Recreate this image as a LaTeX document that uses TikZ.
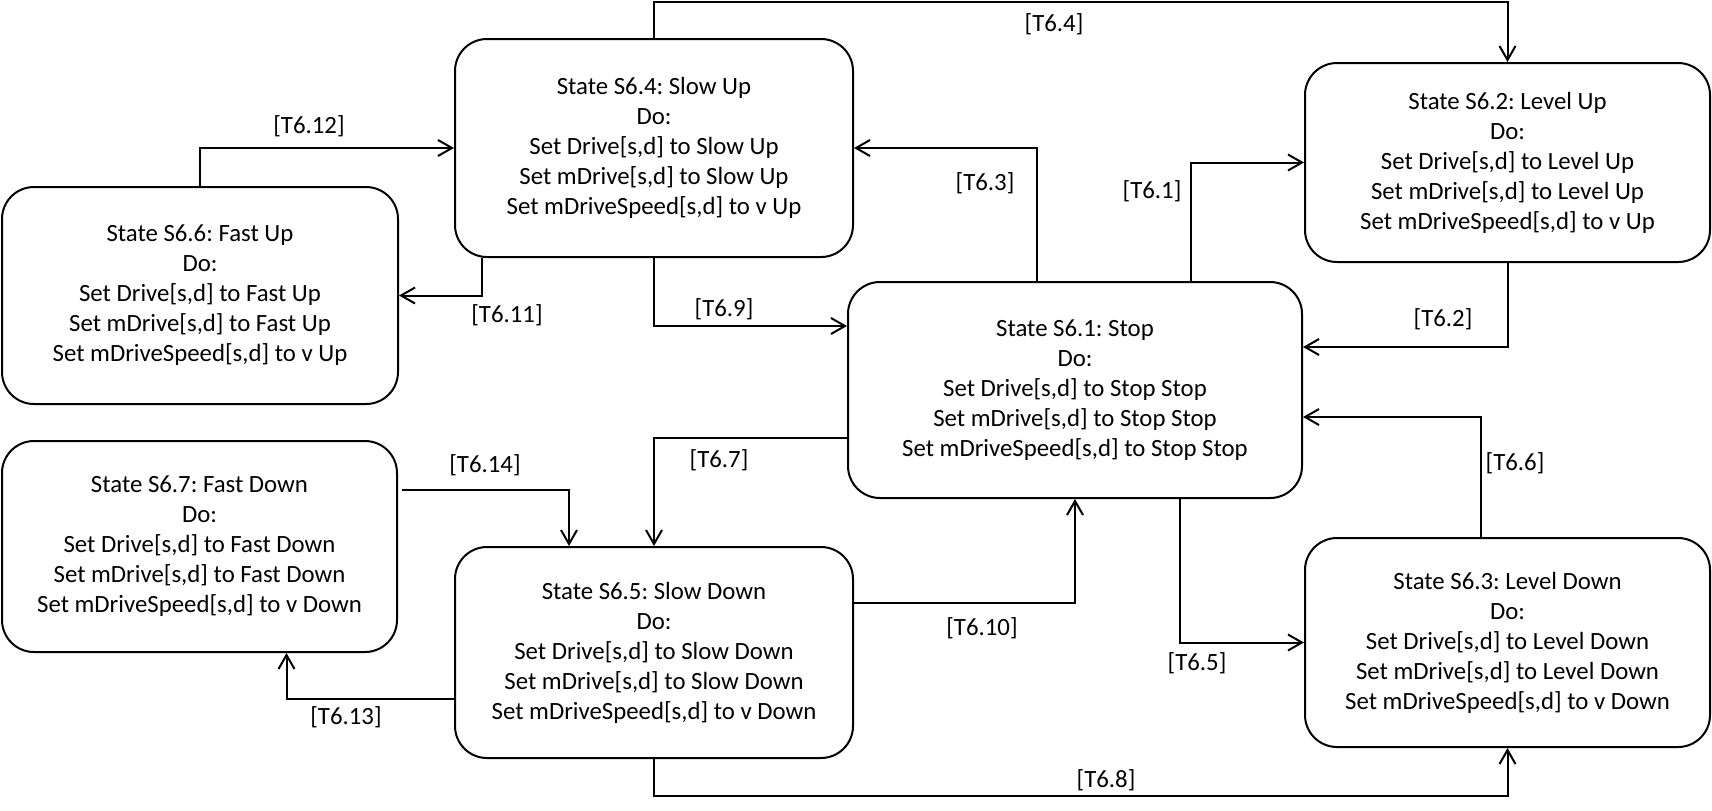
\documentclass[tikz,border=0pt]{standalone}
\usepackage{fontspec}
\setmainfont{Carlito}
\usetikzlibrary{calc,arrows.meta}
\frenchspacing

\begin{document}
\begin{tikzpicture}[x=0.5pt,y=-0.5pt,line width=1pt,
 every node/.style={font=\fontsize{12.4}{15}\selectfont},
 state/.style={draw,rounded corners=16pt,align=center,inner sep=0pt},
 arr/.style={-{Straight Barb[length=7pt,width=8pt]}}]

\newcommand{\dobox}[4] % [state][name][drive][speed]
{State #1: #2\\Do:\\Set Drive[s,d] to #3\\Set mDrive[s,d] to #3\\Set mDriveSpeed[s,d] to #4}

\useasboundingbox (0,0) rectangle (1712,810);

% states
\node[state,minimum width=227pt,minimum height=108pt] (s61) at (1075,390)
 {\dobox{S6.1}{Stop}{Stop Stop}{Stop Stop}};
\node[state,minimum width=202.5pt,minimum height=99.5pt] (s62) at (1507.5,162.5)
 {\dobox{S6.2}{Level Up}{Level Up}{v Up}};
\node[state,minimum width=202.5pt,minimum height=104.5pt] (s63) at (1507.5,642.5)
 {\dobox{S6.3}{Level Down}{Level Down}{v Down}};
\node[state,minimum width=199pt,minimum height=109pt] (s64) at (654,148)
 {\dobox{S6.4}{Slow Up}{Slow Up}{v Up}};
\node[state,minimum width=199pt,minimum height=105.5pt] (s65) at (654,652.5)
 {\dobox{S6.5}{Slow Down}{Slow Down}{v Down}};
\node[state,minimum width=198pt,minimum height=108.5pt] (s66) at (200,295.5)
 {\dobox{S6.6}{Fast Up}{Fast Up}{v Up}};
\node[state,minimum width=197.5pt,minimum height=105.5pt] (s67) at (199.5,546.5)
 {\dobox{S6.7}{Fast Down}{Fast Down}{v Down}};

% transitions
\coordinate (top) at (0,2);
\coordinate (bot) at (0,796);

\draw[arr] ($(s61.north)+(116,0)$) |- (s62.west);
\draw[arr] (s62.south) |- ($(s61.east)+(0,-43)$);
\draw[arr] ($(s61.north)+(-38,0)$) |- (s64.east);
\draw[arr] (s64.north) -- (s64.north |- top) -| (s62.north);
\draw[arr] ($(s61.south)+(105,0)$) |- (s63.west);
\draw[arr] ($(s63.north)+(-27,0)$) |- ($(s61.east)+(0,27)$);
\draw[arr] ($(s61.west)+(0,48)$) -| (s65.north);
\draw[arr] (s65.south) -- (s65.south |- bot) -| (s63.south);
\draw[arr] (s64.south) |- ($(s61.west)+(0,-64)$);
\draw[arr] ($(s65.east)+(0,-50)$) -| (s61.south);
\draw[arr] ($(s64.south)+(-172,0)$) |- (s66.east);
\draw[arr] (s66.north) |- (s64.west);
\draw[arr] ($(s65.west)+(0,46)$) -| ($(s67.south)+(87,0)$);
\draw[arr] ($(s67.east)+(4,-57)$) -| ($(s65.north)+(-85,0)$);

% guards
\node (t61) at (1152,191) {[T6.1]};
\node (t62) at (1443,319) {[T6.2]};
\node (t63) at (985,183) {[T6.3]};
\node (t64) at (1054,24) {[T6.4]};
\node (t65) at (1197,663) {[T6.5]};
\node (t66) at (1515,463) {[T6.6]};
\node (t67) at (719,460) {[T6.7]};
\node (t68) at (1106,780) {[T6.8]};
\node (t69) at (724,309) {[T6.9]};
\node (t610) at (982,628) {[T6.10]};
\node (t611) at (507,315) {[T6.11]};
\node (t612) at (309,126) {[T6.12]};
\node (t613) at (346,717) {[T6.13]};
\node (t614) at (485,465) {[T6.14]};

\end{tikzpicture}
\end{document}
